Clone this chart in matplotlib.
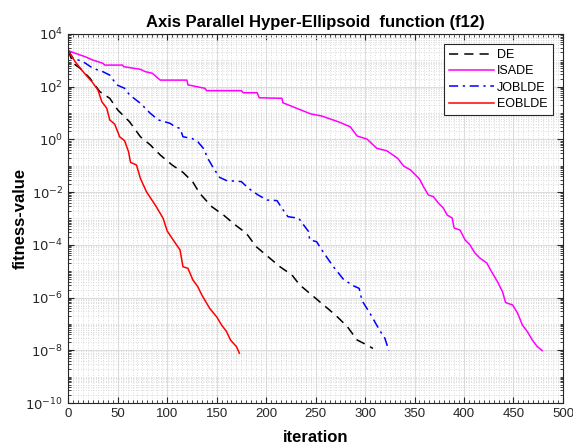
import numpy as np
import matplotlib
matplotlib.use("Agg")
import matplotlib.pyplot as plt
from matplotlib.ticker import FixedLocator, MultipleLocator, FuncFormatter

plt.rcParams['font.family'] = ['Liberation Sans', 'DejaVu Sans']

############## data (iteration, log10 fitness) #####################################
de_it = [0, 5, 12, 22, 32, 42, 50, 62, 73, 83, 93, 105, 116, 126, 133, 145, 157, 169,
         180, 190, 202, 214, 226, 234, 246, 258, 270, 282, 292, 302, 308]
de_log = [3.37, 2.89, 2.70, 2.32, 1.81, 1.56, 1.12, 0.67, 0.10, -0.21, -0.59, -0.97, -1.25,
          -1.62, -2.05, -2.55, -2.87, -3.25, -3.56, -4.07, -4.45, -4.83, -5.14, -5.52,
          -5.90, -6.28, -6.66, -7.10, -7.61, -7.80, -7.93]

isade_it = [0, 7, 17, 25, 35, 37, 55, 56, 73, 78, 85, 93, 120, 121, 138, 140, 175, 177,
            191, 193, 216, 217, 233, 245, 256, 273, 285, 292, 302, 312, 322, 333, 339, 346,
            355, 359, 364, 369, 374, 379, 383, 388, 390, 396, 401, 406, 411, 416, 423, 428,
            434, 439, 442, 449, 454, 459, 464, 469, 474, 479]
isade_log = [3.37, 3.27, 3.14, 3.01, 2.89, 2.82, 2.82, 2.76, 2.66, 2.57, 2.51, 2.25, 2.25,
             2.07, 1.94, 1.85, 1.85, 1.77, 1.77, 1.58, 1.56, 1.39, 1.15, 0.97, 0.89, 0.67,
             0.48, 0.13, 0.01, -0.34, -0.43, -0.72, -1.01, -1.16, -1.50, -1.79, -2.11, -2.17,
             -2.41, -2.60, -2.87, -2.98, -3.36, -3.44, -3.81, -4.00, -4.31, -4.50, -4.69,
             -5.03, -5.41, -5.79, -6.19, -6.28, -6.58, -7.04, -7.29, -7.61, -7.86, -8.01]

joblde_it = [0, 5, 15, 25, 35, 42, 49, 57, 62, 73, 83, 91, 103, 108, 113, 116, 125, 131,
             138, 140, 147, 153, 160, 175, 182, 192, 201, 211, 216, 222, 233, 238, 243, 244,
             251, 258, 268, 278, 288, 294, 297, 305, 315, 320, 324]
joblde_log = [3.37, 3.08, 2.95, 2.70, 2.57, 2.44, 2.07, 1.94, 1.69, 1.37, 0.99, 0.74, 0.61,
              0.48, 0.42, 0.10, 0.04, -0.09, -0.40, -0.65, -1.10, -1.44, -1.56, -1.60,
              -1.85, -2.11, -2.30, -2.32, -2.61, -2.93, -2.99, -3.25, -3.50, -3.81, -3.88,
              -4.29, -4.83, -5.30, -5.55, -5.65, -6.12, -6.60, -7.26, -7.54, -8.01]

eoblde_it = [0, 7, 15, 24, 30, 34, 39, 42, 47, 52, 57, 61, 63, 69, 73, 79, 89, 96, 100,
             106, 113, 116, 121, 126, 131, 135, 140, 143, 150, 155, 160, 164, 170, 173]
eoblde_log = [3.37, 2.95, 2.57, 2.19, 1.88, 1.43, 1.18, 0.74, 0.58, 0.10, -0.05, -0.47,
              -0.87, -0.97, -1.48, -1.98, -2.55, -3.00, -3.47, -3.81, -4.19, -4.83, -4.89,
              -5.33, -5.59, -5.90, -6.22, -6.41, -6.73, -7.04, -7.29, -7.61, -7.86, -8.11]

series = [
    ("DE", de_it, de_log, "k", (0, (6, 4))),
    ("ISADE", isade_it, isade_log, "#ff00ff", "-"),
    ("JOBLDE", joblde_it, joblde_log, "#0000ff", (0, (6, 3, 1.5, 3))),
    ("EOBLDE", eoblde_it, eoblde_log, "#ff0000", "-"),
]

############## plot ##################
fig = plt.figure(figsize=(5.73, 4.46), dpi=100)
ax = fig.add_axes([0.119, 0.0964, 0.8635, 0.8274])

for name, it, lg, col, ls in series:
    ax.semilogy(it, 10.0 ** np.array(lg), color=col, linestyle=ls, linewidth=1.1, label=name)

ax.set_xlim(0, 500)
ax.set_ylim(1e-10, 1e4)
ax.xaxis.set_major_locator(MultipleLocator(50))
ax.xaxis.set_minor_locator(MultipleLocator(5))
major_y = [10.0 ** k for k in range(-10, 5, 2)]
minor_y = [m * 10.0 ** k for k in range(-10, 4) for m in range(1, 10)
           if not (m == 1 and k % 2 == 0)]
ax.yaxis.set_major_locator(FixedLocator(major_y))
ax.yaxis.set_minor_locator(FixedLocator(minor_y))
ax.yaxis.set_major_formatter(FuncFormatter(lambda v, p: r"$10^{%d}$" % round(np.log10(v))))
ax.yaxis.set_minor_formatter(FuncFormatter(lambda v, p: ""))

ax.grid(True, which="major", color="#dcdcdc", linewidth=0.8, linestyle="-")
ax.grid(True, which="minor", color="#d0d0d0", linewidth=0.6, linestyle=(0, (1, 2)))
ax.set_axisbelow(True)

ax.tick_params(which="both", direction="in", top=True, right=True, colors="#262626",
               labelsize=9.5, labelcolor="#262626")
ax.tick_params(which="major", length=4)
ax.tick_params(which="minor", length=2)
for sp in ax.spines.values():
    sp.set_color("#262626")
    sp.set_linewidth(0.8)

ax.set_xlabel("iteration", fontsize=12, fontweight="bold", labelpad=7)
ax.set_ylabel("fitness-value", fontsize=12, fontweight="bold", labelpad=-2)
ax.set_title("Axis Parallel Hyper-Ellipsoid  function (f12)", fontsize=12,
             fontweight="bold", pad=5)

leg = ax.legend(loc="upper right", fontsize=9, handlelength=3.6, handletextpad=0.3,
                labelspacing=0.35, borderpad=0.4, fancybox=False, framealpha=1,
                bbox_to_anchor=(0.992, 0.99))
leg.get_frame().set_edgecolor("#262626")
leg.get_frame().set_linewidth(0.8)

plt.savefig("out.png", dpi=100)
